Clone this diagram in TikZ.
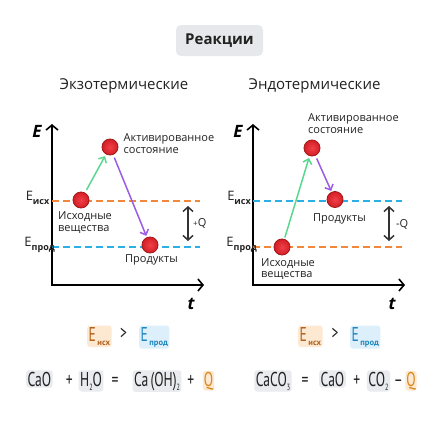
\documentclass[tikz,border=0pt]{standalone}
\usepackage{fontspec}
\setmainfont{Open Sans}
\newfontfamily\eqfont{PT Sans}
\usetikzlibrary{arrows.meta}
\definecolor{titlebg}{HTML}{E6E8EC}
\definecolor{txt}{HTML}{222222}
\definecolor{orangeline}{HTML}{F0873A}
\definecolor{blueline}{HTML}{2BB0E6}
\definecolor{greenarr}{HTML}{5AD88F}
\definecolor{purplearr}{HTML}{9B5DE5}
\definecolor{ballin}{HTML}{F04048}
\definecolor{ballout}{HTML}{D41E26}
\definecolor{ballborder}{HTML}{A01818}
\definecolor{darkarr}{HTML}{333333}
\definecolor{eorange}{HTML}{B0621E}
\definecolor{eorangebg}{HTML}{FDE8D2}
\definecolor{eblue}{HTML}{1F86C0}
\definecolor{ebluebg}{HTML}{DCEFFA}
\definecolor{qorange}{HTML}{D9891C}
\definecolor{eqbg}{HTML}{E9EBEF}
\newcommand\cnd[1]{\scalebox{0.68}[1]{#1}}
\newcommand\lowsub[1]{\raisebox{-4pt}{\fontsize{9}{9}\selectfont #1}}
\newcommand\esub[1]{\raisebox{-4.5pt}{\fontsize{8.5}{8.5}\selectfont\bfseries\,#1}}
\begin{document}
\begin{tikzpicture}[x=1pt,y=-1pt,
  axis/.style={line width=1.6pt, {Straight Barb[length=5pt,width=12pt]}-{Straight Barb[length=5pt,width=12pt]}, line join=miter},
  dashln/.style={line width=1.6pt, dash pattern=on 7pt off 4pt},
  tipped/.style={line width=1.5pt, -{Straight Barb[length=4.5pt,width=9pt]}},
  dbl/.style={line width=1.5pt, draw=darkarr, {Straight Barb[length=4.5pt,width=10pt]}-{Straight Barb[length=4.5pt,width=10pt]}},
  ball/.style={circle, minimum size=16pt, inner sep=0pt, inner color=ballin, outer color=ballout, draw=ballborder, line width=0.8pt},
  lbl/.style={font=\fontsize{11}{11.5}\selectfont, text=txt, align=left, inner sep=0pt},
  axl/.style={font=\fontsize{17}{17}\selectfont\bfseries\itshape, text=black, inner sep=0pt},
  elab/.style={font=\fontsize{13}{13}\selectfont, text=txt, inner sep=0pt, anchor=base east},
  eq/.style={font=\eqfont\fontsize{20}{20}\selectfont, text=txt, inner sep=0pt, anchor=base},
  hl/.style={fill=eqbg, rounded corners=3pt, inner xsep=1.5pt, inner ysep=1.5pt},
  ebox/.style={eq, anchor=base west, rounded corners=3pt, inner sep=1.5pt},
]
\useasboundingbox (0,0) rectangle (440,440);
\fill[white] (0,0) rectangle (440,440);

% title
\node[fill=titlebg, rounded corners=5pt, minimum width=87pt, minimum height=31pt,
      font=\fontsize{15}{15}\selectfont\bfseries, text=txt] (title) at (219.5,40.5) {Реакции};
\node[font=\fontsize{15}{15}\selectfont, text=txt] (exo) at (124,86) {Экзотермические};
\node[font=\fontsize{15}{15}\selectfont, text=txt] (endo) at (314.5,86) {Эндотермические};

% ---------------- left diagram ----------------
\coordinate (LO) at (52,285);
\coordinate (LY) at (52,124);
\coordinate (LX) at (204,285);
\draw[axis] (LY) -- (LO) -- (LX);
\node[axl] (LE) at (37,131) {E};
\node[axl] (LT) at (191,304) {t};

\coordinate (L1a) at (52,200.7); \coordinate (L1b) at (200,200.7);
\coordinate (L2a) at (52,246.7); \coordinate (L2b) at (200,246.7);
\draw[dashln, orangeline] (L1a) -- (L1b);
\draw[dashln, blueline] (L2a) -- (L2b);

\node[elab] (LEi) at (49.5,200.5) {E\lowsub{\bfseries исх}};
\node[elab] (LEp) at (55,246.3) {E\lowsub{\bfseries прод}};

\node[ball] (LR) at (81,200) {};
\node[ball] (LA) at (110,147) {};
\node[ball] (LP) at (150,245) {};
\draw[tipped, greenarr, shorten <=3pt, shorten >=2pt] (LR) -- (LA);
\draw[tipped, purplearr, shorten <=3pt, shorten >=1.5pt] (LA) -- (LP);

\coordinate (LQ1) at (188,206); \coordinate (LQ2) at (188,241);
\draw[dbl] (LQ1) -- (LQ2);
\node[lbl, anchor=west] (LQ) at (193,223) {{\fontsize{8}{8}\selectfont+}Q};

\node[lbl, anchor=west] (LAt) at (123.5,143.5) {Активированное\\состояние};
\node[lbl, anchor=west] (LRt) at (58,222.5) {Исходные\\вещества};
\node[lbl, anchor=west] (LPt) at (125,260) {Продукты};

% ---------------- right diagram ----------------
\coordinate (RO) at (253,285);
\coordinate (RY) at (253,124);
\coordinate (RX) at (405,285);
\draw[axis] (RY) -- (RO) -- (RX);
\node[axl] (RE) at (238,131) {E};
\node[axl] (RT) at (392,304) {t};

\coordinate (R1a) at (253,200.7); \coordinate (R1b) at (402,200.7);
\coordinate (R2a) at (253,246.7); \coordinate (R2b) at (402,246.7);
\draw[dashln, blueline] (R1a) -- (R1b);
\draw[dashln, orangeline] (R2a) -- (R2b);

\node[elab] (REi) at (251,200.5) {E\lowsub{\bfseries исх}};
\node[elab] (REp) at (257,246.3) {E\lowsub{\bfseries прод}};

\node[ball] (RR) at (282,247) {};
\node[ball] (RA) at (312,148) {};
\node[ball] (RP) at (335,199.5) {};
\draw[tipped, greenarr, shorten <=1.5pt, shorten >=2pt] (RR) -- (RA);
\draw[tipped, purplearr, shorten <=3pt, shorten >=1pt] (RA) -- (RP);

\coordinate (RQ1) at (389,206); \coordinate (RQ2) at (389,241);
\draw[dbl] (RQ1) -- (RQ2);
\node[lbl, anchor=west] (RQ) at (396,224) {-Q};

\node[lbl, anchor=west] (RAt) at (308,123.5) {Активированное\\состояние};
\node[lbl, anchor=west] (RPt) at (313,219) {Продукты};
\node[lbl, anchor=west] (RRt) at (261,269) {Исходные\\вещества};

% ---------------- bottom: energy comparison ----------------
\node[ebox, fill=eorangebg, text=eorange] (BE1) at (87,341) {\cnd{E}\esub{исх}};
\node[eq] (BG1) at (123.5,339) {\cnd{>}};
\node[ebox, fill=ebluebg, text=eblue] (BE2) at (139,341) {\cnd{E}\esub{прод}};

\node[ebox, fill=eorangebg, text=eorange] (BE3) at (298,341) {\cnd{E}\esub{исх}};
\node[eq] (BG2) at (335,339) {\cnd{>}};
\node[ebox, fill=ebluebg, text=eblue] (BE4) at (350,341) {\cnd{E}\esub{прод}};

% ---------------- bottom: equations ----------------
\node[eq, hl] (F1) at (39.3,386) {\cnd{CaO}};
\node[eq] (F2) at (69.3,386) {\cnd{+}};
\node[eq, hl] (F3) at (91,386) {\cnd{H\lowsub{2}O}};
\node[eq] (F4) at (115,386) {\cnd{=}};
\node[eq, hl] (F5) at (157,386) {\cnd{Ca\,(OH)\lowsub{2}}};
\node[eq] (F6) at (190.7,386) {\cnd{+}};
\node[eq, fill=eorangebg, rounded corners=3pt, inner sep=1pt, text=qorange] (F7) at (208.5,386) {\cnd{Q}};

\node[eq, hl] (G1) at (273,386) {\cnd{CaCO\lowsub{3}}};
\node[eq] (G2) at (305,386) {\cnd{=}};
\node[eq, hl] (G3) at (332.5,386) {\cnd{CaO}};
\node[eq] (G4) at (356.7,386) {\cnd{+}};
\node[eq, hl] (G5) at (378.5,386) {\cnd{CO\lowsub{2}}};
\node[eq] (G6) at (398.3,386) {\cnd{–}};
\node[eq, fill=eorangebg, rounded corners=3pt, inner sep=1pt, text=qorange] (G7) at (411,386) {\cnd{Q}};
\end{tikzpicture}
\end{document}
